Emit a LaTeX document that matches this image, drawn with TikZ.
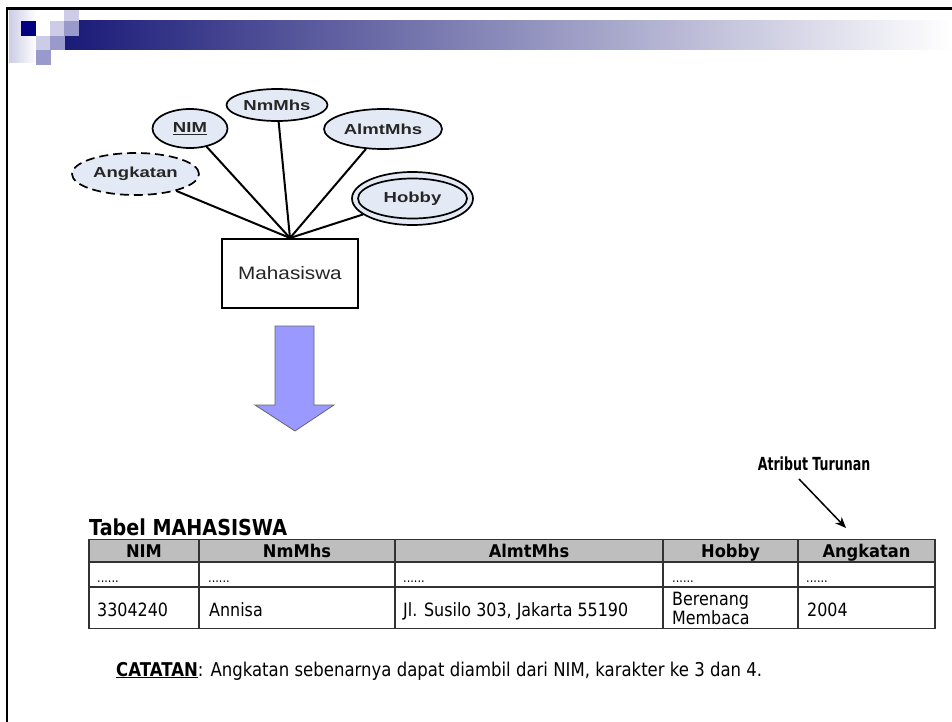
\documentclass[tikz,border=0pt]{standalone}
\usepackage{fontspec}
\usetikzlibrary{shapes.geometric,arrows.meta}
\newfontfamily\erfont[FakeStretch=1.28]{Liberation Sans}
\newfontfamily\erfontb[FakeStretch=1.15]{Liberation Sans}
\newfontfamily\tah[FakeStretch=0.87]{DejaVu Sans}
\newfontfamily\tahh[FakeStretch=0.93]{DejaVu Sans}
\newfontfamily\tahc[FakeStretch=0.7]{DejaVu Sans}
\definecolor{navyA}{RGB}{26,26,120}
\definecolor{midA}{RGB}{210,212,222}
\definecolor{navyB}{RGB}{0,0,128}
\definecolor{lavL}{RGB}{204,204,230}
\definecolor{lavM}{RGB}{153,153,204}
\definecolor{attrfill}{RGB}{228,234,245}
\definecolor{blockblue}{RGB}{153,153,255}
\definecolor{hdrgray}{RGB}{190,190,190}
\definecolor{tblline}{RGB}{50,50,50}
\tikzset{
  attr/.style={ellipse, draw=black, fill=attrfill, line width=1.7pt, inner sep=0pt,
    font=\erfont\bfseries\fontsize{14.5}{16}\selectfont, text=black!85},
  erline/.style={line width=2pt, draw=black},
  tbl/.style={draw=tblline, line width=1.3pt},
  hdr/.style={font=\tahh\bfseries\fontsize{17.5}{20}\selectfont, inner sep=0pt, anchor=base},
  cell/.style={font=\tah\fontsize{18.3}{20}\selectfont, inner sep=0pt, anchor=base west, align=left},
}
\begin{document}
\begin{tikzpicture}[x=1pt,y=-1pt]
\useasboundingbox (0,0) rectangle (952,722);
\fill[white] (0,0) rectangle (952,722);
% header decoration
\shade[left color=lavL, right color=white] (9,10) rectangle (36,63);
\shade[left color=navyA, middle color=midA, right color=white] (65,21) rectangle (952,50);
\fill[navyB] (21,21) rectangle (36,36);
\fill[lavL] (64,10) rectangle (79,21);
\fill[lavL] (50,21) rectangle (64,36);
\fill[lavL] (36,36) rectangle (50,50);
\fill[lavM] (64,21) rectangle (79,36);
\fill[lavM] (50,36) rectangle (65,50);
\fill[lavM] (36,50) rectangle (51,65);
% frame
\draw[line width=2.5pt] (7,722) -- (7,8.5) -- (952,8.5);

% ER diagram
\node[draw=black, line width=2pt, minimum width=136pt, minimum height=69pt, inner sep=0pt,
  font=\erfontb\fontsize{18}{20}\selectfont, text=black!85] (m) at (290,273.5) {Mahasiswa};
\node[attr, minimum width=75pt, minimum height=39pt] (nim) at (190,128.5) {\underline{NIM}};
\node[attr, minimum width=101pt, minimum height=32pt] (nm) at (277,105) {NmMhs};
\node[attr, minimum width=118pt, minimum height=40pt] (almt) at (383,129) {AlmtMhs};
\node[attr, dashed, dash pattern=on 9pt off 5pt, minimum width=127pt, minimum height=42pt] (ang) at (135.5,174) {Angkatan};
\node[attr, minimum width=121pt, minimum height=53pt] (hob) at (412.5,198.5) {};
\node[attr, minimum width=109pt, minimum height=40pt] (hobin) at (412.5,198.5) {Hobby};
\draw[erline] (nim) -- (m.north);
\draw[erline] (nm) -- (m.north);
\draw[erline] (almt) -- (m.north);
\draw[erline] (ang) -- (m.north);
\draw[erline] (hob) -- (m.north);

% block arrow
\draw[fill=blockblue, draw=black!60, line width=0.8pt]
  (275,326) -- (314,326) -- (314,405) -- (334,405) -- (295,431) -- (255,405) -- (275,405) -- cycle;

% label and arrow
\node[font=\tahc\bfseries\fontsize{18}{20}\selectfont, inner sep=0pt, anchor=base] (turunan) at (814,470) {Atribut Turunan};
\coordinate (tstart) at (799,479);
\coordinate (tend) at (846,528);
\draw[line width=1.5pt, -{Stealth[length=11pt,width=9pt]}] (tstart) -- (tend);

% table title
\node[font=\tah\bfseries\fontsize{22}{24}\selectfont, inner sep=0pt, anchor=base west] (ttl) at (89,535) {Tabel MAHASISWA};

% table
\fill[hdrgray] (89,539.5) rectangle (935,562);
\draw[tbl] (89,539.5) rectangle (935,628.5);
\draw[tbl] (89,562) -- (935,562);
\draw[tbl] (89,587) -- (935,587);
\foreach \xx in {199,395,663,798} \draw[tbl] (\xx,539.5) -- (\xx,628.5);

\node[hdr] (h1) at (144,557.5) {NIM};
\node[hdr] (h2) at (297,557.5) {NmMhs};
\node[hdr] (h3) at (529,557.5) {AlmtMhs};
\node[hdr] (h4) at (730.5,557.5) {Hobby};
\node[hdr] (h5) at (866.5,557.5) {Angkatan};

\foreach \xx/\nm in {97/d1,208/d2,403/d3,672/d4,806/d5}
  \node[cell, font=\tah\fontsize{13}{15}\selectfont] (\nm) at (\xx,582) {......};

\node[cell] (c1) at (97,616) {3304240};
\node[cell] (c2) at (209,616) {Annisa};
\node[cell] (c3) at (403,616) {Jl. Susilo 303, Jakarta 55190};
\node[cell] (c4) at (672,605) {Berenang};
\node[cell] (c4b) at (672,624) {Membaca};
\node[cell] (c5) at (807,616) {2004};

% note
\node[font=\tah\fontsize{19}{21}\selectfont, inner sep=0pt, anchor=base west] (note) at (116,676)
  {\underline{\textbf{CATATAN}}: Angkatan sebenarnya dapat diambil dari NIM, karakter ke 3 dan 4.};
\end{tikzpicture}
\end{document}
